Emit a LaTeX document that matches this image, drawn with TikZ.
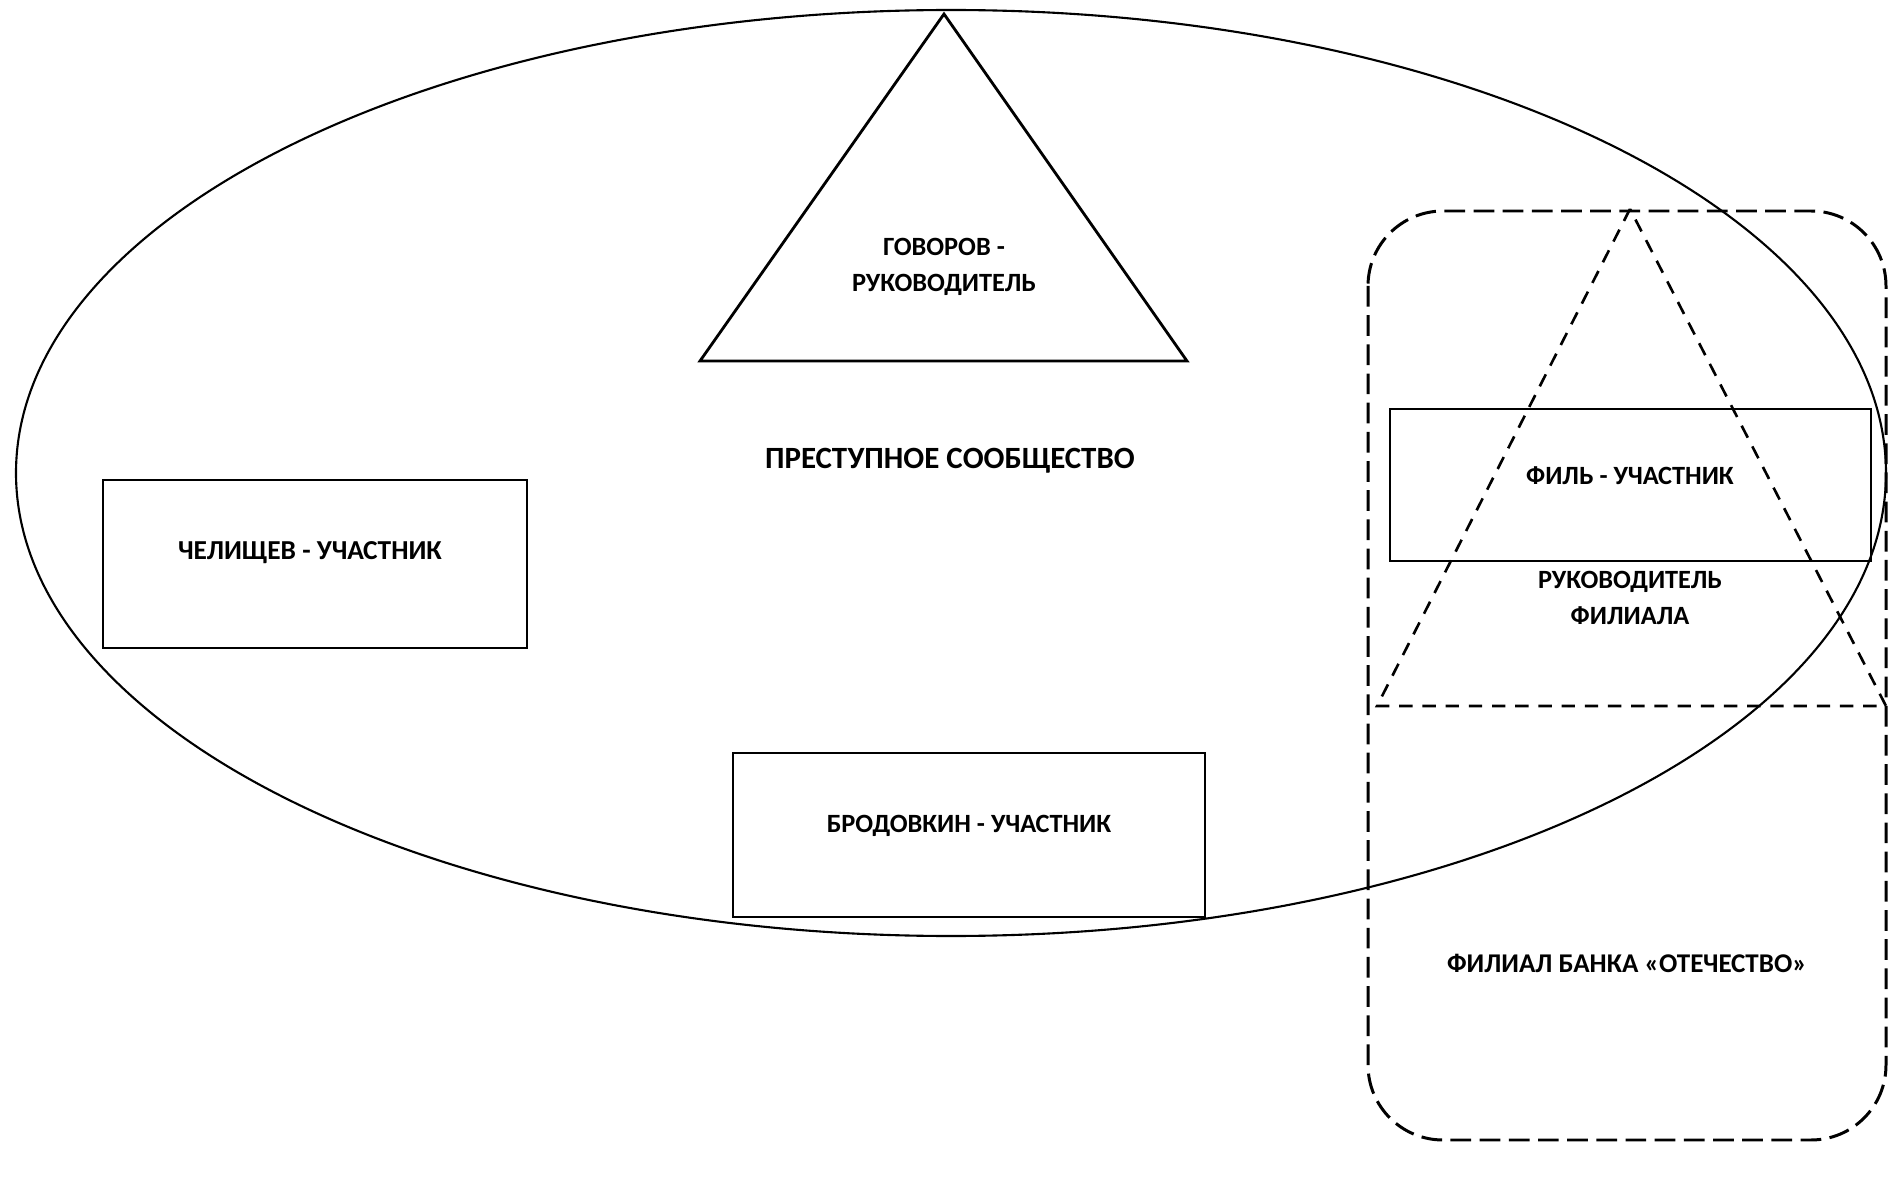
\documentclass[tikz,border=0pt]{standalone}
\usepackage{fontspec}
\setmainfont{Carlito}
\usetikzlibrary{shapes.geometric}
\tikzset{
  lbl/.style={font=\bfseries\fontsize{7.5}{10.2}\selectfont, align=center, inner sep=0pt},
  biglbl/.style={lbl, font=\bfseries\fontsize{8.8}{10.5}\selectfont},
  solidline/.style={line width=0.8pt},
  branchdash/.style={line width=0.85pt, dash pattern=on 5.9pt off 2.4pt},
  tridash/.style={line width=0.75pt, dash pattern=on 3.8pt off 2.8pt}
}
\begin{document}
\begin{tikzpicture}[x=0.1mm, y=-0.1mm]
\useasboundingbox (0,0) rectangle (1888,1177);
\def\community{(951,473) ellipse (935 and 463)}
\def\leadertri{(944,14) -- (700,361) -- (1187,361) -- cycle}
\def\branchtri{(1630,209) -- (1377,706) -- (1886,706) -- cycle}
% criminal community
\draw[line width=0.6pt] \community;
\draw[solidline] \leadertri;
\node[lbl] (gov) at (944,267) {ГОВОРОВ -\\РУКОВОДИТЕЛЬ};
\node[biglbl] (soob) at (950,461) {ПРЕСТУПНОЕ СООБЩЕСТВО};
\draw[solidline] (103,480) rectangle (527,648)
	node[lbl, font=\bfseries\fontsize{7.8}{10}\selectfont] (chel) at (310,553) {ЧЕЛИЩЕВ - УЧАСТНИК};
\draw[solidline] (733,753) rectangle (1205,917)
	node[lbl] (brod) at (969,826) {БРОДОВКИН - УЧАСТНИК};
% bank branch
\draw[branchdash, rounded corners=7.5mm] (1368,211) rectangle (1886,1140);
\draw[tridash] \branchtri;
\draw[solidline] (1390,409) rectangle (1871,561)
	node[lbl] (fil) at (1630,476) {ФИЛЬ - УЧАСТНИК};
\node[lbl] (rukfil) at (1630,598) {РУКОВОДИТЕЛЬ\\ФИЛИАЛА};
\node[lbl, font=\bfseries\fontsize{7.7}{10}\selectfont] (bank) at (1627,963) {ФИЛИАЛ БАНКА «ОТЕЧЕСТВО»};
\end{tikzpicture}
\end{document}
